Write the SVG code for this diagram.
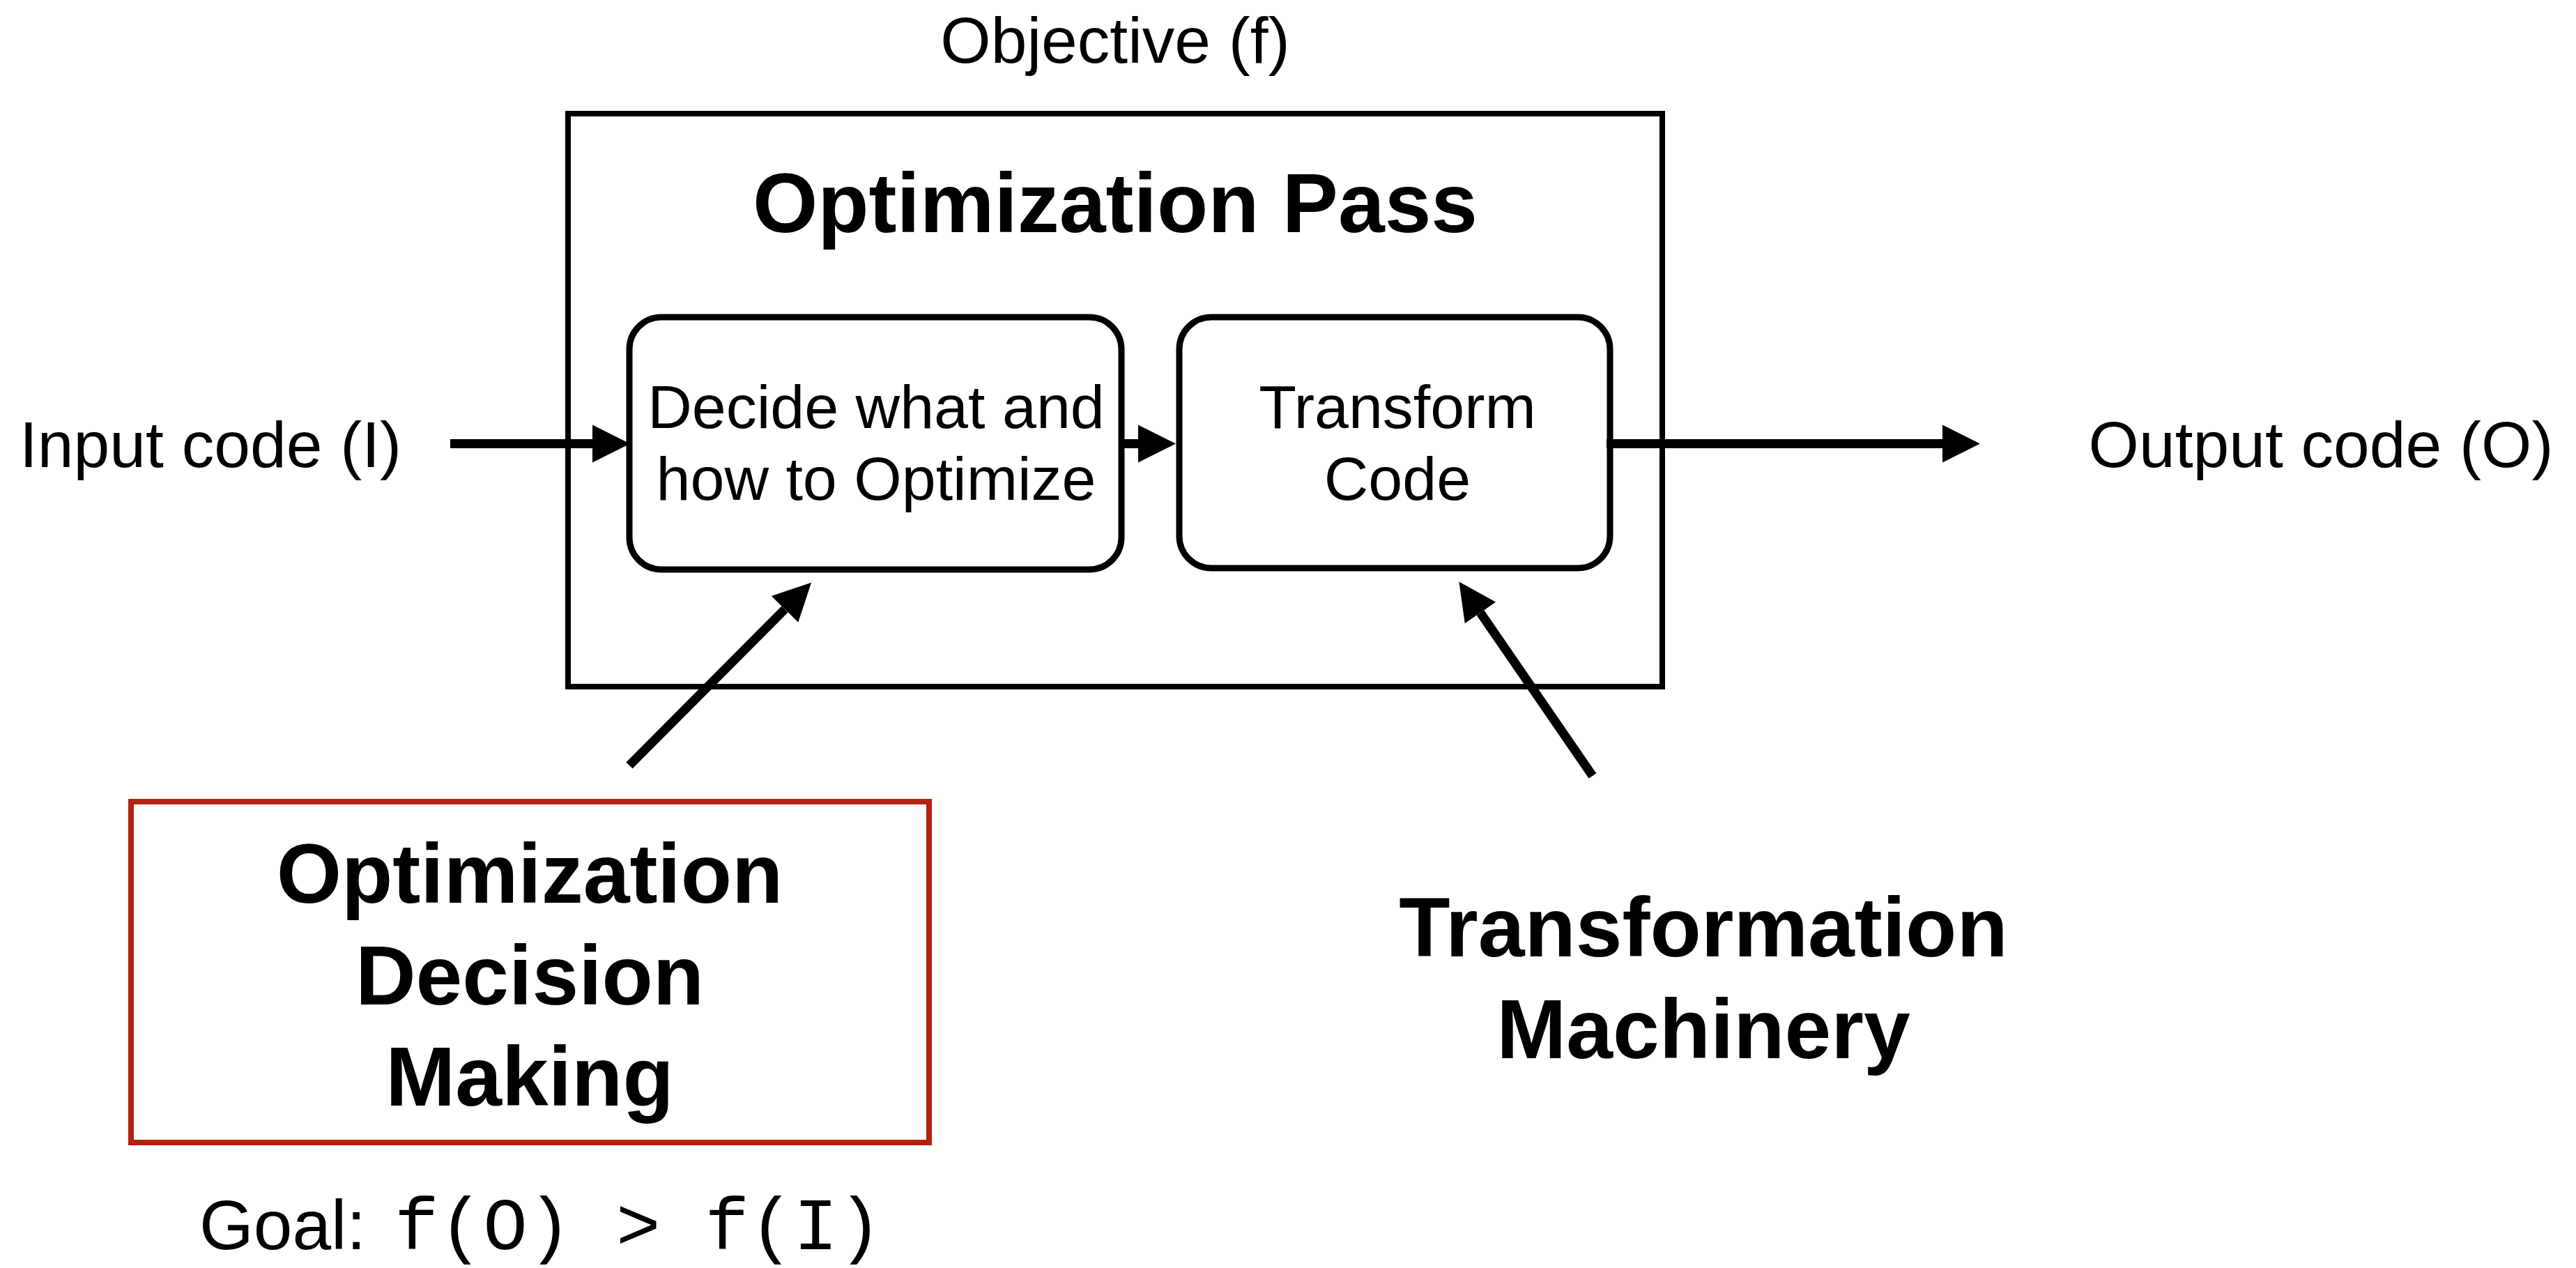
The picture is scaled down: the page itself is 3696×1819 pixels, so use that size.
<svg xmlns="http://www.w3.org/2000/svg" width="3696" height="1819" viewBox="0 0 3696 1819">
  <style>
    .lbl { font-family: "Liberation Sans", Arial, sans-serif; fill: #000; text-anchor: middle; }
    .reg { font-size: 93px; }
    .inner { font-size: 88px; }
    .big { font-size: 120px; font-weight: bold; }
    .mono { font-family: "Liberation Mono", "Courier New", monospace; font-size: 106px; fill: #000; }
    .frame { fill: none; stroke: #000; stroke-width: 8; }
    .step { fill: #fff; stroke: #000; stroke-width: 9; }
    .decision { fill: none; stroke: #B5200F; stroke-width: 8; }
    .link { stroke: #000; stroke-width: 13; fill: none; }
  </style>
  <defs>
    <marker id="head" markerUnits="userSpaceOnUse" viewBox="0 0 56 58" markerWidth="56" markerHeight="58" refX="0" refY="29" orient="auto">
      <path d="M0,2 L54,29 L0,56 Z" fill="#000"/>
    </marker>
  </defs>

  <!-- labels outside the pass -->
  <text class="lbl reg" x="1600" y="90">Objective (f)</text>
  <text class="lbl reg" x="302" y="670">Input code (I)</text>
  <text class="lbl reg" x="3330" y="670">Output code (O)</text>

  <g id="optimization-pass">
    <rect class="frame" x="815" y="163" width="1570" height="822"/>
    <text class="lbl big" x="1600" y="333">Optimization Pass</text>
  </g>

  <g id="decide">
    <rect class="step" x="903" y="455" width="706" height="362" rx="46" ry="46"/>
    <text class="lbl inner" x="1257" y="614">Decide what and</text>
    <text class="lbl inner" x="1257" y="717">how to Optimize</text>
  </g>

  <g id="transform">
    <rect class="step" x="1692" y="455" width="618" height="360" rx="46" ry="46"/>
    <text class="lbl inner" x="2005" y="614">Transform</text>
    <text class="lbl inner" x="2005" y="717">Code</text>
  </g>

  <g id="decision-making">
    <rect class="decision" x="188" y="1150" width="1145" height="489"/>
    <text class="lbl big" x="760" y="1295">Optimization</text>
    <text class="lbl big" x="760" y="1441">Decision</text>
    <text class="lbl big" x="760" y="1586">Making</text>
  </g>

  <g id="goal">
    <text class="lbl" style="font-size:100px; text-anchor:start" x="286" y="1792">Goal:</text>
    <text class="mono" x="566" y="1792">f(O) &gt; f(I)</text>
  </g>

  <g id="transformation-machinery">
    <text class="lbl big" x="2444" y="1372">Transformation</text>
    <text class="lbl big" x="2444" y="1518">Machinery</text>
  </g>

  <g id="connectors">
    <line class="link" x1="646" y1="636.5" x2="850" y2="636.5" marker-end="url(#head)"/>
    <line class="link" x1="1606" y1="636.5" x2="1633" y2="636.5" marker-end="url(#head)"/>
    <line class="link" x1="2305" y1="636.5" x2="2787" y2="636.5" marker-end="url(#head)"/>
    <line class="link" x1="903" y1="1098" x2="1126" y2="874" marker-end="url(#head)"/>
    <line class="link" x1="2285" y1="1113" x2="2124" y2="879" marker-end="url(#head)"/>
  </g>
</svg>
